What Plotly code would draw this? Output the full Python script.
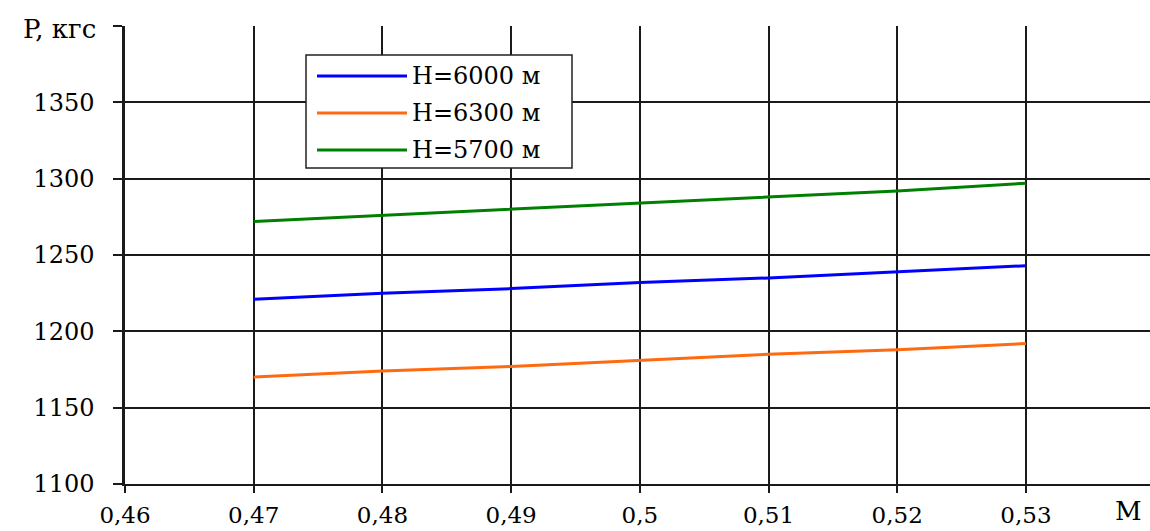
import plotly.graph_objects as go

# Data
mach = [0.47, 0.48, 0.49, 0.50, 0.51, 0.52, 0.53]
p_6000 = [1221, 1225, 1228, 1232, 1235, 1239, 1243]
p_6300 = [1170, 1174, 1177, 1181, 1185, 1188, 1192]
p_5700 = [1272, 1276, 1280, 1284, 1288, 1292, 1297]

series_names = ["H=6000 м", "H=6300 м", "H=5700 м"]
series_values = [p_6000, p_6300, p_5700]
series_colors = ["#0000FF", "#FF6A10", "#008000"]

x_ticks = [0.46, 0.47, 0.48, 0.49, 0.50, 0.51, 0.52, 0.53]
x_tick_labels = ["0,46", "0,47", "0,48", "0,49", "0,5", "0,51", "0,52", "0,53"]
y_ticks = [1100, 1150, 1200, 1250, 1300, 1350, 1400]
y_tick_labels = ["1100", "1150", "1200", "1250", "1300", "1350", ""]

FONT = "DejaVu Serif"
W, H = 1150, 531
ML, MR, MT, MB = 125, 0, 26, 47
PW, PH = W - ML - MR, H - MT - MB

fig = go.Figure()
for name, vals, col in zip(series_names, series_values, series_colors):
    fig.add_trace(go.Scatter(x=mach, y=vals, mode="lines", name=name,
                             line=dict(color=col, width=3), showlegend=False))

def px_x(p):
    return (p - ML) / PW

def px_y(p):
    return (H - MB - p) / PH

# custom legend (box, line keys, labels)
shapes = [dict(type="rect", xref="paper", yref="paper",
               x0=px_x(306), x1=px_x(572), y0=px_y(168), y1=px_y(55),
               line=dict(color="#222", width=1.5), fillcolor="white", layer="above")]
annotations = []
rows = [76, 113, 150]
for name, col, ry in zip(series_names, series_colors, rows):
    shapes.append(dict(type="line", xref="paper", yref="paper",
                       x0=px_x(317), x1=px_x(407), y0=px_y(ry), y1=px_y(ry),
                       line=dict(color=col, width=3), layer="above"))
    annotations.append(dict(xref="paper", yref="paper", x=px_x(410), y=px_y(ry),
                            text=name, showarrow=False, xanchor="left", yanchor="middle",
                            font=dict(family=FONT, size=24, color="#000")))

annotations.append(dict(xref="paper", yref="paper", x=px_x(98), y=px_y(29),
                        text="P, кгс", showarrow=False, xanchor="right", yanchor="middle",
                        font=dict(family=FONT, size=26, color="#000")))
annotations.append(dict(xref="paper", yref="paper", x=px_x(1128), y=px_y(511),
                        text="M", showarrow=False, xanchor="center", yanchor="middle",
                        font=dict(family=FONT, size=26, color="#000")))

fig.update_layout(
    width=W, height=H,
    margin=dict(l=ML, r=MR, t=MT, b=MB, pad=0),
    paper_bgcolor="white", plot_bgcolor="white",
    font=dict(family=FONT, size=23, color="#000"),
    shapes=shapes, annotations=annotations,
    showlegend=False,
)
fig.update_xaxes(range=[0.46, 0.53964], tickvals=x_ticks, ticktext=x_tick_labels,
                 showgrid=True, gridcolor="#1a1a1a", gridwidth=1.5,
                 showline=True, linecolor="#1a1a1a", linewidth=2,
                 ticks="outside", ticklen=7, tickwidth=1.5, tickcolor="#1a1a1a",
                 zeroline=False, ticklabelstandoff=2,
                 tickfont=dict(family=FONT, size=23, color="#000"))
fig.update_yaxes(range=[1100, 1400], tickvals=y_ticks, ticktext=y_tick_labels,
                 showgrid=True, gridcolor="#1a1a1a", gridwidth=1.5,
                 showline=True, linecolor="#1a1a1a", linewidth=2.5,
                 ticks="outside", ticklen=9, tickwidth=1.5, tickcolor="#1a1a1a",
                 zeroline=False, ticklabelstandoff=14,
                 tickfont=dict(family=FONT, size=24, color="#000"))

fig.write_html("out.html")
